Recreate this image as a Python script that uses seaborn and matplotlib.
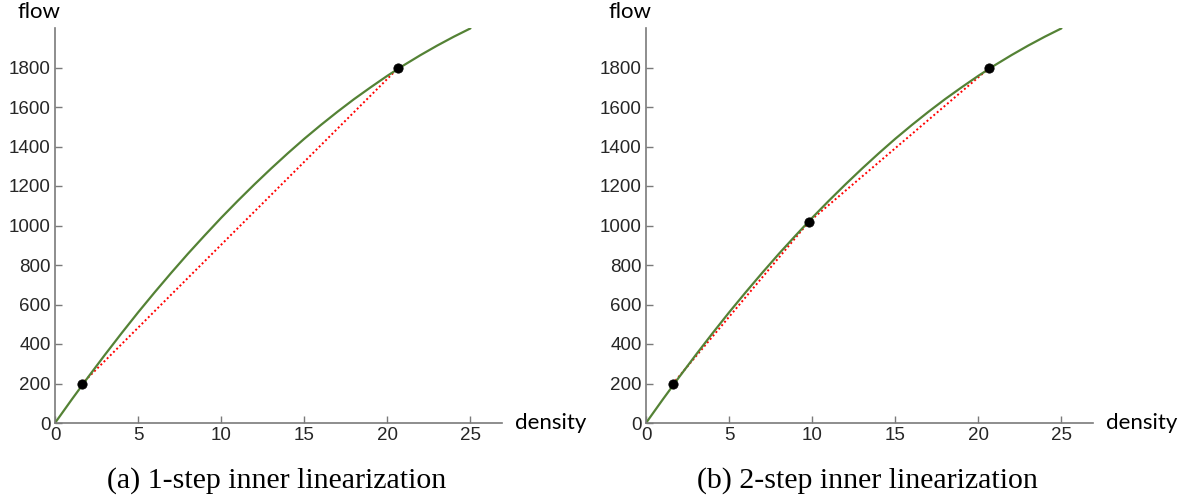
import matplotlib
matplotlib.use("Agg")
import matplotlib.pyplot as plt
import seaborn as sns
import pandas as pd

# Fundamental diagram curve
density = list(range(0, 26))
flow = [0, 118, 233, 345, 454, 560, 662, 761, 857, 949, 1039, 1125, 1208, 1288,
        1365, 1439, 1509, 1576, 1640, 1700, 1758, 1812, 1863, 1911, 1956, 1998]

# Linearization breakpoints
pts_a_density = [1.6, 20.65]
pts_a_flow = [197, 1797]
pts_b_density = [1.6, 9.8, 20.65]
pts_b_flow = [197, 1018, 1797]

captions = ["(a) 1-step inner linearization", "(b) 2-step inner linearization"]
x_ticks = [0, 5, 10, 15, 20, 25]
y_ticks = [0, 200, 400, 600, 800, 1000, 1200, 1400, 1600, 1800]

sns.set_theme(style="white")
plt.rcParams["font.family"] = ["Liberation Sans", "DejaVu Sans"]

fig = plt.figure(figsize=(11.93, 5.01), dpi=100)
curve_df = pd.DataFrame({"density": density, "flow": flow})

axes_specs = [
    (55 / 1193, pts_a_density, pts_a_flow, captions[0]),
    (646 / 1193, pts_b_density, pts_b_flow, captions[1]),
]
gray = "#7a7a7a"
for left, pdx, pdy, cap in axes_specs:
    ax = fig.add_axes([left, 78 / 501, 447 / 1193, 395 / 501])
    sns.lineplot(data=curve_df, x="density", y="flow", ax=ax, color="#548235",
                 linewidth=1.6, zorder=2)
    lin_df = pd.DataFrame({"density": pdx, "flow": pdy})
    sns.lineplot(data=lin_df, x="density", y="flow", ax=ax, color="#ff0000",
                 linewidth=1.4, linestyle=(0, (1, 1.3)), zorder=1)
    sns.scatterplot(data=lin_df, x="density", y="flow", ax=ax, color="black",
                    s=45, edgecolor="black", zorder=3)
    ax.set_xlim(0, 26.9)
    ax.set_ylim(0, 2000)
    ax.set_xticks(x_ticks)
    ax.set_yticks(y_ticks)
    ax.set_xlabel("")
    ax.set_ylabel("")
    for s in ["top", "right"]:
        ax.spines[s].set_visible(False)
    for s in ["left", "bottom"]:
        ax.spines[s].set_color(gray)
        ax.spines[s].set_linewidth(1.2)
    ax.tick_params(direction="in", length=5, width=1, color=gray,
                   labelsize=13.5, labelcolor="#262626", pad=3,
                   left=True, bottom=True)
    ax.text(-0.085, 1.015, "flow", transform=ax.transAxes, fontsize=16,
            family=["Lato", "DejaVu Sans"], ha="left", va="bottom", color="black")
    ax.text(1.03, 0.0, "density", transform=ax.transAxes, fontsize=16,
            family=["Lato", "DejaVu Sans"], ha="left", va="center", color="black")
    ax.text(0.495, -0.145, cap, transform=ax.transAxes, fontsize=21.5,
            family=["Liberation Serif", "DejaVu Serif"], ha="center", va="center",
            color="black")

fig.savefig("out.png", dpi=100)
